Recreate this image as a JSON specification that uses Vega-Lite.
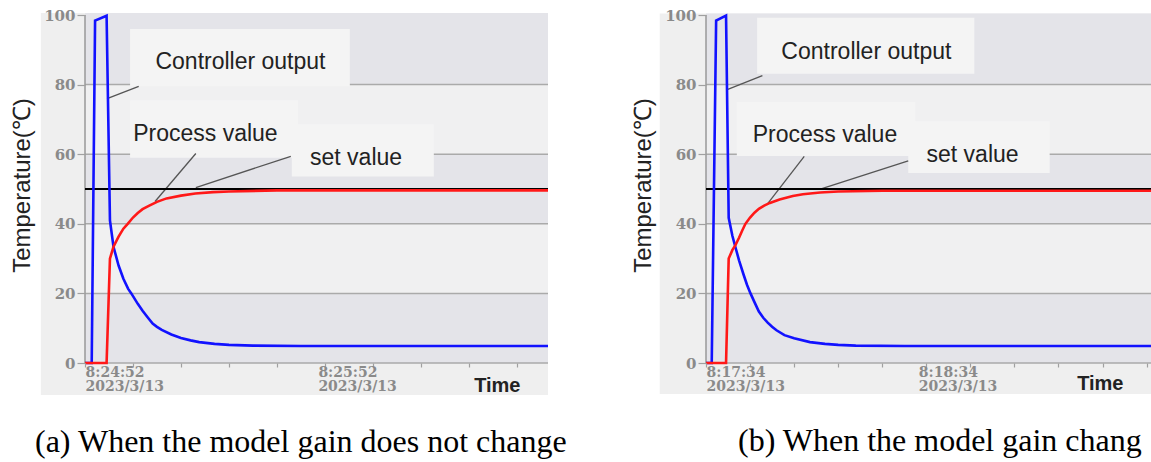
{
  "$schema": "https://vega.github.io/schema/vega-lite/v6.json",
  "background": "white",
  "padding": {"left": 10, "top": 8, "right": 0, "bottom": 0},
  "bounds": "flush",
  "spacing": 158,
  "config": {
    "view": {"stroke": null},
    "axis": {"grid": false, "domain": false, "labelFont": "DejaVu Serif", "labelFontWeight": "bold", "labelFontSize": 14, "labelColor": "#8a8a8a", "tickColor": "#a0a0a0", "tickWidth": 1.2}
  },
  "datasets": {
    "frameA": [
      {"kind": "frame", "x": -9.2, "x2": 96.5, "y": -9.2, "y2": 100.6},
      {"kind": "dark", "x": 0, "x2": 96.5, "y": 80, "y2": 100.6},
      {"kind": "light", "x": 0, "x2": 96.5, "y": 60, "y2": 80},
      {"kind": "dark", "x": 0, "x2": 96.5, "y": 40, "y2": 60},
      {"kind": "light", "x": 0, "x2": 96.5, "y": 20, "y2": 40},
      {"kind": "dark", "x": 0, "x2": 96.5, "y": 0, "y2": 20}
    ],
    "frameB": [
      {"kind": "frame", "x": -10.5, "x2": 101, "y": -8.9, "y2": 100.4},
      {"kind": "dark", "x": 0, "x2": 101, "y": 80, "y2": 100.4},
      {"kind": "light", "x": 0, "x2": 101, "y": 60, "y2": 80},
      {"kind": "dark", "x": 0, "x2": 101, "y": 40, "y2": 60},
      {"kind": "light", "x": 0, "x2": 101, "y": 20, "y2": 40},
      {"kind": "dark", "x": 0, "x2": 101, "y": 0, "y2": 20}
    ],
    "grid": [{"g": 0}, {"g": 20}, {"g": 40}, {"g": 60}, {"g": 80}],
    "vaxis": [{"g": 0}],
    "setpoint": [{"sv": 50}],
    "boxesA": [
      {"x": 9.4, "x2": 55.2, "y": 79.5, "y2": 96},
      {"x": 9.4, "x2": 44.4, "y": 59, "y2": 75.5},
      {"x": 43.1, "x2": 72.7, "y": 53.6, "y2": 68.6}
    ],
    "boxesB": [
      {"x": 11.6, "x2": 60.9, "y": 83.1, "y2": 99.2},
      {"x": 7, "x2": 47.5, "y": 59.5, "y2": 75},
      {"x": 45.9, "x2": 78, "y": 54.6, "y2": 69.5}
    ],
    "textA": [
      {"label": "Controller output", "x": 32.4, "y": 86.5},
      {"label": "Process value", "x": 25.1, "y": 65.7},
      {"label": "set value", "x": 56.5, "y": 58.8}
    ],
    "textB": [
      {"label": "Controller output", "x": 36.4, "y": 89.5},
      {"label": "Process value", "x": 27, "y": 65.6},
      {"label": "set value", "x": 60.5, "y": 59.9}
    ],
    "leadA": [
      {"x": 4.6, "y": 76, "x2": 11.2, "y2": 79.5},
      {"x": 23.1, "y": 60.2, "x2": 14.6, "y2": 46.4},
      {"x": 42.9, "y": 59.4, "x2": 23.1, "y2": 50.4}
    ],
    "leadB": [
      {"x": 4.95, "y": 78.6, "x2": 12.8, "y2": 82.6},
      {"x": 22.3, "y": 59.4, "x2": 14, "y2": 45.8},
      {"x": 45.9, "y": 58.1, "x2": 26.3, "y2": 50.1}
    ],
    "curvesA": [
      {"s": "Controller output", "t": 0, "v": 0},
      {"s": "Controller output", "t": 1.4, "v": 0},
      {"s": "Controller output", "t": 2.1, "v": 98.4},
      {"s": "Controller output", "t": 4.5, "v": 99.8},
      {"s": "Controller output", "t": 5.2, "v": 41},
      {"s": "Controller output", "t": 5.94, "v": 33.4},
      {"s": "Controller output", "t": 7, "v": 28},
      {"s": "Controller output", "t": 8, "v": 24.2},
      {"s": "Controller output", "t": 9, "v": 21.3},
      {"s": "Controller output", "t": 9.65, "v": 20},
      {"s": "Controller output", "t": 11, "v": 17},
      {"s": "Controller output", "t": 12, "v": 15},
      {"s": "Controller output", "t": 13, "v": 13.2},
      {"s": "Controller output", "t": 14.1, "v": 11.3},
      {"s": "Controller output", "t": 15, "v": 10.4},
      {"s": "Controller output", "t": 16, "v": 9.5},
      {"s": "Controller output", "t": 18, "v": 8.2},
      {"s": "Controller output", "t": 20, "v": 7.2},
      {"s": "Controller output", "t": 22, "v": 6.5},
      {"s": "Controller output", "t": 23.8, "v": 6},
      {"s": "Controller output", "t": 27, "v": 5.5},
      {"s": "Controller output", "t": 30, "v": 5.2},
      {"s": "Controller output", "t": 35, "v": 5},
      {"s": "Controller output", "t": 45, "v": 4.9},
      {"s": "Controller output", "t": 96.5, "v": 4.9},
      {"s": "Process value", "t": 0, "v": 0},
      {"s": "Process value", "t": 4.5, "v": 0},
      {"s": "Process value", "t": 5.2, "v": 30},
      {"s": "Process value", "t": 5.94, "v": 33.4},
      {"s": "Process value", "t": 7, "v": 36.3},
      {"s": "Process value", "t": 8, "v": 38.6},
      {"s": "Process value", "t": 8.9, "v": 40},
      {"s": "Process value", "t": 10, "v": 41.8},
      {"s": "Process value", "t": 11, "v": 43.1},
      {"s": "Process value", "t": 12, "v": 44.2},
      {"s": "Process value", "t": 13.4, "v": 45.2},
      {"s": "Process value", "t": 15, "v": 46.3},
      {"s": "Process value", "t": 17, "v": 47.3},
      {"s": "Process value", "t": 20, "v": 48.1},
      {"s": "Process value", "t": 23, "v": 48.7},
      {"s": "Process value", "t": 26.7, "v": 49.1},
      {"s": "Process value", "t": 30, "v": 49.3},
      {"s": "Process value", "t": 40, "v": 49.6},
      {"s": "Process value", "t": 96.5, "v": 49.6}
    ],
    "curvesB": [
      {"s": "Controller output", "t": 0, "v": 0},
      {"s": "Controller output", "t": 1.3, "v": 0},
      {"s": "Controller output", "t": 2.3, "v": 98.4},
      {"s": "Controller output", "t": 4.55, "v": 99.8},
      {"s": "Controller output", "t": 5.15, "v": 41.7},
      {"s": "Controller output", "t": 6, "v": 36.5},
      {"s": "Controller output", "t": 6.65, "v": 33.4},
      {"s": "Controller output", "t": 7.5, "v": 29.5},
      {"s": "Controller output", "t": 8.5, "v": 25.5},
      {"s": "Controller output", "t": 9.3, "v": 22.5},
      {"s": "Controller output", "t": 10.1, "v": 20},
      {"s": "Controller output", "t": 11, "v": 17.5},
      {"s": "Controller output", "t": 12, "v": 14.8},
      {"s": "Controller output", "t": 13, "v": 13},
      {"s": "Controller output", "t": 14, "v": 11.6},
      {"s": "Controller output", "t": 15, "v": 10.4},
      {"s": "Controller output", "t": 16, "v": 9.4},
      {"s": "Controller output", "t": 17.8, "v": 8},
      {"s": "Controller output", "t": 20, "v": 7.1},
      {"s": "Controller output", "t": 23.6, "v": 6},
      {"s": "Controller output", "t": 27, "v": 5.5},
      {"s": "Controller output", "t": 30, "v": 5.2},
      {"s": "Controller output", "t": 34, "v": 5},
      {"s": "Controller output", "t": 45, "v": 4.9},
      {"s": "Controller output", "t": 101, "v": 4.9},
      {"s": "Process value", "t": 0, "v": 0},
      {"s": "Process value", "t": 4.55, "v": 0},
      {"s": "Process value", "t": 5.15, "v": 30},
      {"s": "Process value", "t": 6, "v": 32.5},
      {"s": "Process value", "t": 6.65, "v": 33.8},
      {"s": "Process value", "t": 7.5, "v": 36},
      {"s": "Process value", "t": 8.2, "v": 38},
      {"s": "Process value", "t": 8.95, "v": 40},
      {"s": "Process value", "t": 10, "v": 41.8},
      {"s": "Process value", "t": 11, "v": 43.2},
      {"s": "Process value", "t": 12, "v": 44.3},
      {"s": "Process value", "t": 13.2, "v": 45.2},
      {"s": "Process value", "t": 14.5, "v": 46},
      {"s": "Process value", "t": 16.7, "v": 47},
      {"s": "Process value", "t": 19.7, "v": 48},
      {"s": "Process value", "t": 22, "v": 48.5},
      {"s": "Process value", "t": 25.9, "v": 49},
      {"s": "Process value", "t": 30, "v": 49.3},
      {"s": "Process value", "t": 40, "v": 49.5},
      {"s": "Process value", "t": 101, "v": 49.5}
    ]
  },
  "hconcat": [
    {
      "width": 463,
      "height": 348,
      "title": {"text": "(a) When the model gain does not change", "orient": "bottom", "anchor": "start", "frame": "group", "dx": -50, "offset": 32, "font": "Liberation Serif", "fontSize": 32, "fontWeight": "normal", "color": "#000000"},
      "layer": [
        {
          "data": {"name": "frameA"},
          "mark": {"type": "rect", "clip": false},
          "encoding": {
            "x": {"field": "x", "type": "quantitative", "scale": {"domain": [0, 96.5], "nice": false, "zero": false},
              "axis": {"values": [0, 10, 20, 30, 40, 50, 60, 70, 80, 90],
                "labelExpr": "datum.value == 0 ? ['8:24:52','2023/3/13'] : datum.value == 60 ? ['8:25:52','2023/3/13'] : ''",
                "labelAlign": "left", "labelOffset": {"condition": {"test": "datum.value == 60", "value": -55}, "value": 0},
                "labelBaseline": "top", "labelPadding": -2, "labelLineHeight": 14, "labelFlush": false, "labelOverlap": false,
                "labelFont": "DejaVu Serif", "labelFontWeight": "bold", "labelFontSize": 14,
                "tickSize": 4, "zindex": 1,
                "title": "Time", "titleX": 435, "titleY": 22, "titleAlign": "right", "titleBaseline": "middle", "titleFont": "Liberation Sans", "titleFontWeight": "bold", "titleFontSize": 20, "titleColor": "#222222"}},
            "x2": {"field": "x2"},
            "y": {"field": "y", "type": "quantitative", "scale": {"domain": [0, 100], "nice": false, "zero": false},
              "axis": {"values": [0, 5, 10, 15, 20, 25, 30, 35, 40, 45, 50, 55, 60, 65, 70, 75, 80, 85, 90, 95, 100],
                "labelExpr": "datum.value % 20 == 0 ? datum.label : ''",
                "tickSize": {"condition": {"test": "datum.value % 20 == 0", "value": 8}, "value": 3},
                "labelFont": "DejaVu Serif", "labelFontWeight": "bold", "labelFontSize": 15,
                "labelPadding": 2, "labelBaseline": "middle", "labelOverlap": false, "labelFlush": false, "zindex": 1,
                "title": "Temperature(℃)", "titleX": -63, "titleY": 170, "titleBaseline": "middle", "titleAlign": "center", "titleAngle": -90, "titleFont": "Liberation Sans", "titleFontSize": 24, "titleFontWeight": "normal", "titleColor": "#222222"}},
            "y2": {"field": "y2"},
            "fill": {"field": "kind", "type": "nominal", "scale": {"domain": ["frame", "dark", "light"], "range": ["#efefef", "#e4e4e9", "#f0f0f1"]}, "legend": null}
          }
        },
        {
          "data": {"name": "grid"},
          "mark": {"type": "rule", "color": "#aaaaaa", "strokeWidth": 1.5},
          "encoding": {"y": {"field": "g", "type": "quantitative", "scale": {"domain": [0, 100], "nice": false, "zero": false}}}
        },
        {
          "data": {"name": "vaxis"},
          "mark": {"type": "rule", "color": "#999999", "strokeWidth": 1.5},
          "encoding": {"x": {"field": "g", "type": "quantitative", "scale": {"domain": [0, 96.5], "nice": false, "zero": false}}}
        },
        {
          "data": {"name": "boxesA"},
          "mark": {"type": "rect", "color": "#f4f4f4"},
          "encoding": {
            "x": {"field": "x", "type": "quantitative", "scale": {"domain": [0, 96.5], "nice": false, "zero": false}},
            "x2": {"field": "x2"},
            "y": {"field": "y", "type": "quantitative", "scale": {"domain": [0, 100], "nice": false, "zero": false}},
            "y2": {"field": "y2"}
          }
        },
        {
          "data": {"name": "leadA"},
          "mark": {"type": "rule", "color": "#555555", "strokeWidth": 1.3},
          "encoding": {
            "x": {"field": "x", "type": "quantitative", "scale": {"domain": [0, 96.5], "nice": false, "zero": false}},
            "x2": {"field": "x2"},
            "y": {"field": "y", "type": "quantitative", "scale": {"domain": [0, 100], "nice": false, "zero": false}},
            "y2": {"field": "y2"}
          }
        },
        {
          "data": {"name": "setpoint"},
          "mark": {"type": "rule", "color": "#000000", "strokeWidth": 2},
          "encoding": {"y": {"field": "sv", "type": "quantitative", "scale": {"domain": [0, 100], "nice": false, "zero": false}}}
        },
        {
          "data": {"name": "curvesA"},
          "mark": {"type": "line", "strokeWidth": 2.6},
          "encoding": {
            "x": {"field": "t", "type": "quantitative", "scale": {"domain": [0, 96.5], "nice": false, "zero": false}},
            "y": {"field": "v", "type": "quantitative", "scale": {"domain": [0, 100], "nice": false, "zero": false}},
            "stroke": {"field": "s", "type": "nominal", "scale": {"domain": ["Controller output", "Process value"], "range": ["#1212ff", "#ff1818"]}, "legend": null}
          }
        },
        {
          "data": {"name": "textA"},
          "mark": {"type": "text", "font": "Liberation Sans", "fontSize": 23, "color": "#222222", "align": "center", "baseline": "middle"},
          "encoding": {
            "x": {"field": "x", "type": "quantitative", "scale": {"domain": [0, 96.5], "nice": false, "zero": false}},
            "y": {"field": "y", "type": "quantitative", "scale": {"domain": [0, 100], "nice": false, "zero": false}},
            "text": {"field": "label"}
          }
        }
      ]
    },
    {
      "width": 445,
      "height": 348,
      "title": {"text": "(b) When the model gain chang", "orient": "bottom", "anchor": "start", "frame": "group", "dx": 32, "offset": 32, "font": "Liberation Serif", "fontSize": 32, "fontWeight": "normal", "color": "#000000"},
      "layer": [
        {
          "data": {"name": "frameB"},
          "mark": {"type": "rect", "clip": false},
          "encoding": {
            "x": {"field": "x", "type": "quantitative", "scale": {"domain": [0, 101], "nice": false, "zero": false},
              "axis": {"values": [0, 10, 20, 30, 40, 50, 60, 70, 80, 90, 100],
                "labelExpr": "datum.value == 0 ? ['8:17:34','2023/3/13'] : datum.value == 60 ? ['8:18:34','2023/3/13'] : ''",
                "labelAlign": "left", "labelOffset": {"condition": {"test": "datum.value == 60", "value": -52}, "value": 0},
                "labelBaseline": "top", "labelPadding": -2, "labelLineHeight": 14, "labelFlush": false, "labelOverlap": false,
                "labelFont": "DejaVu Serif", "labelFontWeight": "bold", "labelFontSize": 14,
                "tickSize": 4, "zindex": 1,
                "title": "Time", "titleX": 417, "titleY": 20, "titleAlign": "right", "titleBaseline": "middle", "titleFont": "Liberation Sans", "titleFontWeight": "bold", "titleFontSize": 20, "titleColor": "#222222"}},
            "x2": {"field": "x2"},
            "y": {"field": "y", "type": "quantitative", "scale": {"domain": [0, 100], "nice": false, "zero": false},
              "axis": {"values": [0, 5, 10, 15, 20, 25, 30, 35, 40, 45, 50, 55, 60, 65, 70, 75, 80, 85, 90, 95, 100],
                "labelExpr": "datum.value % 20 == 0 ? datum.label : ''",
                "tickSize": {"condition": {"test": "datum.value % 20 == 0", "value": 8}, "value": 3},
                "labelFont": "DejaVu Serif", "labelFontWeight": "bold", "labelFontSize": 15,
                "labelPadding": 2, "labelBaseline": "middle", "labelOverlap": false, "labelFlush": false, "zindex": 1,
                "title": "Temperature(℃)", "titleX": -63, "titleY": 170, "titleBaseline": "middle", "titleAlign": "center", "titleAngle": -90, "titleFont": "Liberation Sans", "titleFontSize": 24, "titleFontWeight": "normal", "titleColor": "#222222"}},
            "y2": {"field": "y2"},
            "fill": {"field": "kind", "type": "nominal", "scale": {"domain": ["frame", "dark", "light"], "range": ["#efefef", "#e4e4e9", "#f0f0f1"]}, "legend": null}
          }
        },
        {
          "data": {"name": "grid"},
          "mark": {"type": "rule", "color": "#aaaaaa", "strokeWidth": 1.5},
          "encoding": {"y": {"field": "g", "type": "quantitative", "scale": {"domain": [0, 100], "nice": false, "zero": false}}}
        },
        {
          "data": {"name": "vaxis"},
          "mark": {"type": "rule", "color": "#999999", "strokeWidth": 1.5},
          "encoding": {"x": {"field": "g", "type": "quantitative", "scale": {"domain": [0, 101], "nice": false, "zero": false}}}
        },
        {
          "data": {"name": "boxesB"},
          "mark": {"type": "rect", "color": "#f4f4f4"},
          "encoding": {
            "x": {"field": "x", "type": "quantitative", "scale": {"domain": [0, 101], "nice": false, "zero": false}},
            "x2": {"field": "x2"},
            "y": {"field": "y", "type": "quantitative", "scale": {"domain": [0, 100], "nice": false, "zero": false}},
            "y2": {"field": "y2"}
          }
        },
        {
          "data": {"name": "leadB"},
          "mark": {"type": "rule", "color": "#555555", "strokeWidth": 1.3},
          "encoding": {
            "x": {"field": "x", "type": "quantitative", "scale": {"domain": [0, 101], "nice": false, "zero": false}},
            "x2": {"field": "x2"},
            "y": {"field": "y", "type": "quantitative", "scale": {"domain": [0, 100], "nice": false, "zero": false}},
            "y2": {"field": "y2"}
          }
        },
        {
          "data": {"name": "setpoint"},
          "mark": {"type": "rule", "color": "#000000", "strokeWidth": 2},
          "encoding": {"y": {"field": "sv", "type": "quantitative", "scale": {"domain": [0, 100], "nice": false, "zero": false}}}
        },
        {
          "data": {"name": "curvesB"},
          "mark": {"type": "line", "strokeWidth": 2.6},
          "encoding": {
            "x": {"field": "t", "type": "quantitative", "scale": {"domain": [0, 101], "nice": false, "zero": false}},
            "y": {"field": "v", "type": "quantitative", "scale": {"domain": [0, 100], "nice": false, "zero": false}},
            "stroke": {"field": "s", "type": "nominal", "scale": {"domain": ["Controller output", "Process value"], "range": ["#1212ff", "#ff1818"]}, "legend": null}
          }
        },
        {
          "data": {"name": "textB"},
          "mark": {"type": "text", "font": "Liberation Sans", "fontSize": 23, "color": "#222222", "align": "center", "baseline": "middle"},
          "encoding": {
            "x": {"field": "x", "type": "quantitative", "scale": {"domain": [0, 101], "nice": false, "zero": false}},
            "y": {"field": "y", "type": "quantitative", "scale": {"domain": [0, 100], "nice": false, "zero": false}},
            "text": {"field": "label"}
          }
        }
      ]
    }
  ]
}
